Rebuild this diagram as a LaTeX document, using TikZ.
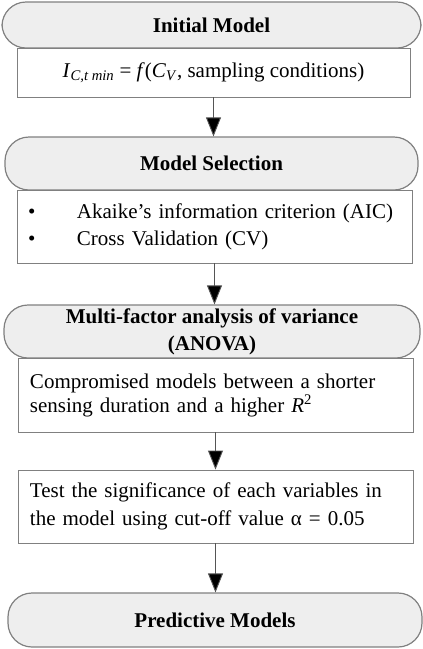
\documentclass[tikz,border=0pt]{standalone}
\usepackage{fontspec}
\setmainfont{Liberation Serif}
\usetikzlibrary{arrows.meta,positioning,calc}
\definecolor{pillfill}{HTML}{EEEEEE}
\definecolor{edgegray}{HTML}{808080}
\definecolor{linegray}{HTML}{555555}
\tikzset{
  pillbox/.style={draw=edgegray,line width=1.2pt,fill=pillfill,rounded corners=24pt,
    inner sep=0pt,align=center,font=\fontsize{21}{27}\selectfont\bfseries},
  textbox/.style={draw=edgegray,line width=0.9pt,fill=white,inner sep=0pt,align=left},
  flowarrow/.style={draw=linegray,line width=0.9pt,-{Triangle[length=19pt,width=15pt,fill=black]}}
}
\begin{document}
\begin{tikzpicture}[x=1pt,y=-1pt,font=\fontsize{21}{27}\selectfont]
\useasboundingbox (0,0) rectangle (423,649);
% stages
\node[pillbox,minimum width=419pt,minimum height=46pt] (init) at (211.5,25) {Initial Model};
\node[textbox,minimum width=393pt,minimum height=49pt,align=center] (initbox) at (213.5,72.5)
  {\textit{I}\textsubscript{\textit{C,t min}} = \textit{f}(\textit{C}\textsubscript{\textit{V}}, sampling conditions)};
\node[pillbox,minimum width=413pt,minimum height=53pt] (sel) at (211.5,163.5) {Model Selection};
\node[textbox,minimum width=395pt,minimum height=73pt,text width=373pt] (selbox) at (214.5,226.5)
  {\makebox[49pt][l]{\textbullet}Akaike’s information criterion (AIC)\\
   \makebox[49pt][l]{\textbullet}Cross Validation (CV)};
\node[pillbox,minimum width=416pt,minimum height=53pt] (anova) at (212,331.5)
  {Multi-factor analysis of variance\\(ANOVA)};
\node[textbox,minimum width=395pt,minimum height=74pt,text width=371pt,
  font=\fontsize{21}{24}\selectfont] (anovabox) at (215.5,395)
  {Compromised models between a shorter\\sensing duration and a higher \textit{R}\textsuperscript{2}};
\node[textbox,minimum width=395pt,minimum height=73pt,text width=371pt,
  font=\fontsize{21}{28}\selectfont] (test) at (215.5,506.5)
  {Test the significance of each variables in\\the model using cut-off value α = 0.05};
\node[pillbox,minimum width=414pt,minimum height=54pt] (pred) at (215,620) {Predictive Models};
% connectors
\draw[flowarrow] (initbox.south) -- (initbox.south |- sel.north);
\draw[flowarrow] (selbox.south) -- (selbox.south |- anova.north);
\draw[flowarrow] (anovabox.south) -- (test.north);
\draw[flowarrow] (test.south) -- (test.south |- pred.north);
\end{tikzpicture}
\end{document}
